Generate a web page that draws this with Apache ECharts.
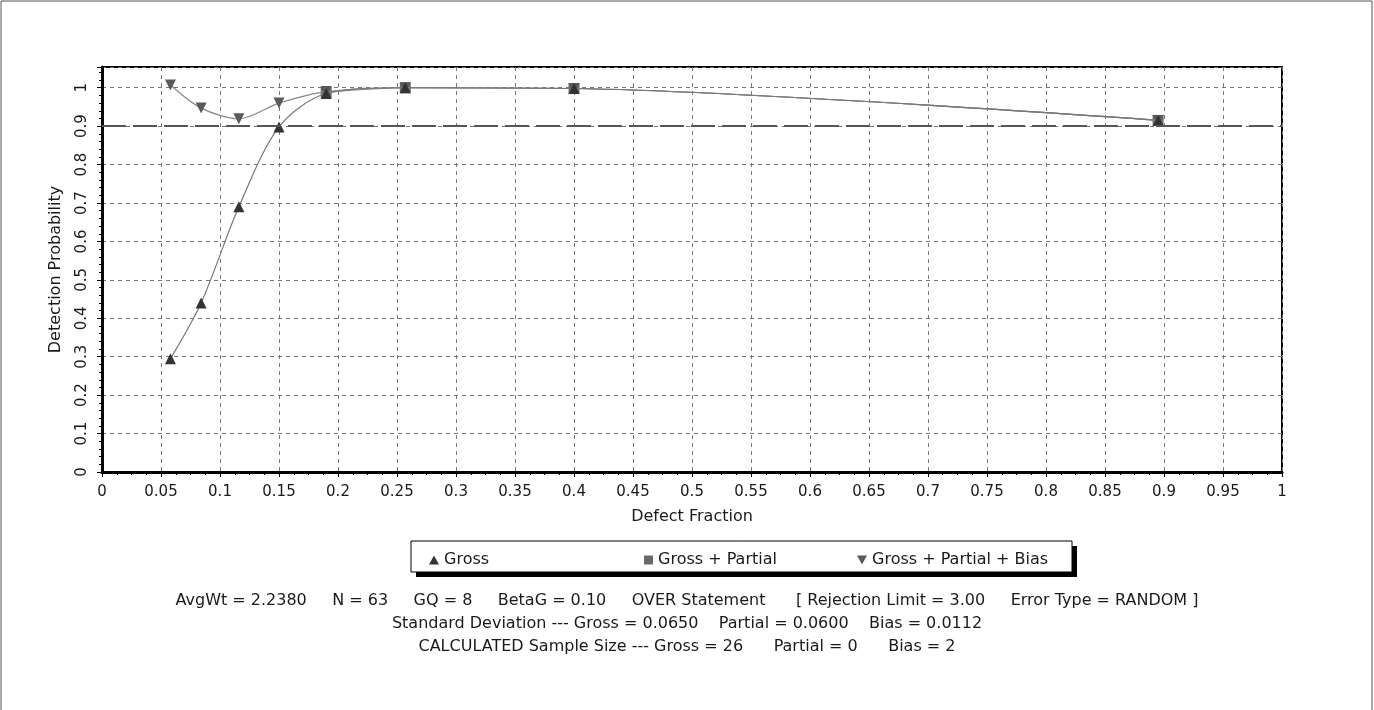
<!DOCTYPE html>
<html><head><meta charset="utf-8">
<script src="https://cdn.jsdelivr.net/npm/echarts@6/dist/echarts.min.js"></script>
<style>html,body{margin:0;padding:0;background:#fff;}#c{width:1374px;height:710px;}</style>
</head><body><div id="c"></div>
<script>
const grossX = [0.058, 0.084, 0.116, 0.150, 0.190, 0.257, 0.400, 0.895];
const grossY = [0.295, 0.440, 0.690, 0.898, 0.985, 1.000, 0.998, 0.915];
const partialX = [0.190, 0.257, 0.400, 0.895];
const partialY = [0.988, 1.000, 0.998, 0.915];
const biasX = [0.058, 0.084, 0.116, 0.150, 0.190, 0.257, 0.400, 0.895];
const biasY = [1.007, 0.947, 0.919, 0.960, 0.990, 1.000, 0.998, 0.915];
const thresholdY = 0.9;
const xTicks = [0,0.05,0.1,0.15,0.2,0.25,0.3,0.35,0.4,0.45,0.5,0.55,0.6,0.65,0.7,0.75,0.8,0.85,0.9,0.95,1];
const infoLines = [
  "AvgWt = 2.2380     N = 63     GQ = 8     BetaG = 0.10     OVER Statement      [ Rejection Limit = 3.00     Error Type = RANDOM ]",
  "Standard Deviation --- Gross = 0.0650    Partial = 0.0600    Bias = 0.0112",
  "CALCULATED Sample Size --- Gross = 26      Partial = 0      Bias = 2"
];
const pairs = (xs, ys) => xs.map((x, i) => [x, ys[i]]);
const font = '"DejaVu Sans", Verdana, sans-serif';
const chart = echarts.init(document.getElementById('c'), null, {renderer: 'canvas'});
const downTri = 'path://M0,0 L10,0 L5,9 Z';
const upTri = 'path://M5,0 L10,9 L0,9 Z';
const legendText = {fontFamily: font, fontSize: 16, color: '#1a1a1a'};
chart.setOption({
  animation: false,
  backgroundColor: '#fff',
  grid: {left: 102, right: 92, top: 67, bottom: 238, show: true, borderColor: '#000', borderWidth: 2},
  xAxis: {
    type: 'value', min: 0, max: 1, interval: 0.05,
    name: 'Defect Fraction', nameLocation: 'middle', nameGap: 37,
    nameTextStyle: {fontFamily: font, fontSize: 16, color: '#1a1a1a'},
    axisLine: {show: true, onZero: false, lineStyle: {color: '#000', width: 3}},
    axisTick: {show: true, length: 5, lineStyle: {color: '#000'}},
    minorTick: {show: true, splitNumber: 4, length: 3, lineStyle: {color: '#000'}},
    axisLabel: {fontFamily: font, fontSize: 15, color: '#1a1a1a', margin: 13,
      formatter: v => xTicks.some(t => Math.abs(t - v) < 1e-9) ? String(+v.toFixed(2)) : ''},
    splitLine: {show: true, lineStyle: {color: '#777', type: [4, 4], width: 1}}
  },
  yAxis: {
    type: 'value', min: 0, max: 1.054, interval: 0.1,
    name: 'Detection Probability', nameLocation: 'middle', nameGap: 38,
    nameTextStyle: {fontFamily: font, fontSize: 16, color: '#1a1a1a'},
    axisLine: {show: true, lineStyle: {color: '#000', width: 3}},
    axisTick: {show: true, length: 5, lineStyle: {color: '#000'}},
    minorTick: {show: true, splitNumber: 5, length: 3, lineStyle: {color: '#000'}},
    axisLabel: {fontFamily: font, fontSize: 15, color: '#1a1a1a', rotate: 90, margin: 12,
      formatter: v => v > 1.001 ? '' : String(+v.toFixed(1))},
    splitLine: {show: true, lineStyle: {color: '#777', type: [4, 4], width: 1}}
  },
  legend: [
    {data: [{name: 'Gross', icon: upTri}], left: 424, top: 547, itemWidth: 10, itemHeight: 9, textStyle: legendText},
    {data: [{name: 'Gross + Partial', icon: 'rect'}], left: 639, top: 547, itemWidth: 9, itemHeight: 9, textStyle: legendText},
    {data: [{name: 'Gross + Partial + Bias', icon: downTri}], left: 852, top: 547, itemWidth: 10, itemHeight: 9, textStyle: legendText}
  ],
  graphic: [
    {type: 'rect', z: -1, shape: {x: 1, y: 1, width: 1371, height: 720}, style: {fill: 'none', stroke: '#555', lineWidth: 1}},
    {type: 'rect', z: -1, shape: {x: 416, y: 546, width: 661, height: 31}, style: {fill: '#000'}},
    {type: 'rect', z: -1, shape: {x: 411, y: 541, width: 661, height: 31}, style: {fill: '#fff', stroke: '#000', lineWidth: 1}},
    {type: 'text', left: 'center', top: 593, style: {text: infoLines[0], font: '16px ' + font, fill: '#1a1a1a'}},
    {type: 'text', left: 'center', top: 616, style: {text: infoLines[1], font: '16px ' + font, fill: '#1a1a1a'}},
    {type: 'text', left: 'center', top: 639, style: {text: infoLines[2], font: '16px ' + font, fill: '#1a1a1a'}}
  ],
  series: [
    {name: 'Gross + Partial', type: 'line', data: pairs(partialX, partialY), smooth: 0.3,
      symbol: 'rect', symbolSize: 11, itemStyle: {color: '#6a6a6a'},
      lineStyle: {color: '#888', width: 1.2}, z: 2},
    {name: 'Gross + Partial + Bias', type: 'line', data: pairs(biasX, biasY), smooth: 0.3,
      symbol: 'triangle', symbolRotate: 180, symbolSize: 11, itemStyle: {color: '#5a5a5a'},
      lineStyle: {color: '#888', width: 1.2}, z: 3},
    {name: 'Gross', type: 'line', data: pairs(grossX, grossY), smooth: 0.3,
      symbol: 'triangle', symbolSize: 11, itemStyle: {color: '#333'},
      lineStyle: {color: '#777', width: 1.2}, z: 4,
      markLine: {silent: true, symbol: 'none', label: {show: false},
        lineStyle: {color: '#555', width: 2, type: [24, 7]},
        data: [{yAxis: thresholdY}]}}
  ]
});
</script></body></html>
